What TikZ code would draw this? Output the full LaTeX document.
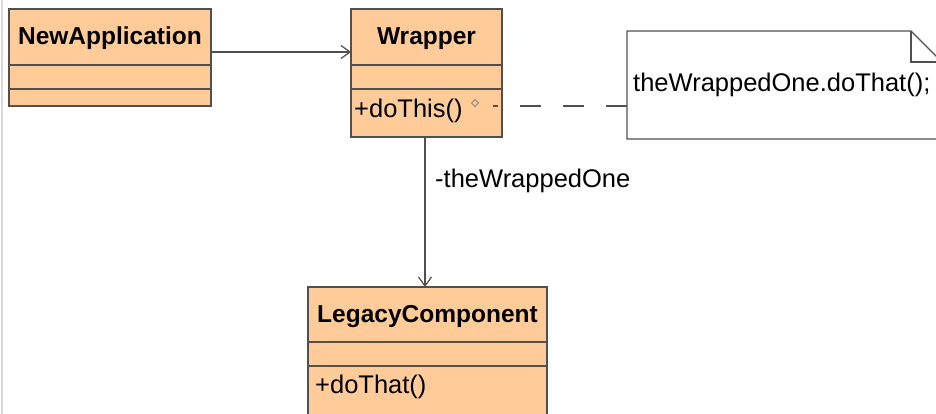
\documentclass[tikz,border=0pt]{standalone}
\usepackage{fontspec}
\setmainfont{Liberation Sans}
\usetikzlibrary{arrows.meta}
\definecolor{peach}{RGB}{255,204,153}
\definecolor{edge}{RGB}{80,80,80}
\tikzset{
  cls/.style={draw=edge, fill=peach, line width=1.3pt, rectangle, inner sep=0pt, outer sep=0pt},
  sep/.style={draw=edge, line width=1.3pt},
  bold/.style={font=\fontsize{24.5}{28}\selectfont\bfseries, inner sep=0pt, anchor=base},
  plain/.style={font=\fontsize{25.5}{28}\selectfont, inner sep=0pt, anchor=base west},
  assoc/.style={draw=edge, line width=1.2pt, -{Straight Barb[length=9pt,width=13pt,line width=1.2pt]}},
  notebox/.style={rectangle, inner sep=0pt, outer sep=0pt, minimum width=315pt, minimum height=108pt},
  dep/.style={draw=edge, line width=1.3pt, dash pattern=on 21.5pt off 21.5pt}
}
\begin{document}
\begin{tikzpicture}[x=1pt,y=-1pt]
\useasboundingbox (0,0) rectangle (936,414);
\fill[white] (0,0) rectangle (936,414);
\clip (0,0) rectangle (936,414);
\draw[black!15, line width=2pt] (2,0) -- (2,414);

% NewApplication
\node[cls, minimum width=202pt, minimum height=97pt] (newapp) at (110,57.5) {};
\draw[sep] (newapp.west |- 0,65) -- (newapp.east |- 0,65);
\draw[sep] (newapp.west |- 0,89) -- (newapp.east |- 0,89);
\node[bold] (newappT) at (110,45) {NewApplication};

% Wrapper
\node[cls, minimum width=151pt, minimum height=128pt] (wrapper) at (426.5,73) {};
\draw[sep] (wrapper.west |- 0,65) -- (wrapper.east |- 0,65);
\draw[sep] (wrapper.west |- 0,89) -- (wrapper.east |- 0,89);
\node[bold] (wrapperT) at (426.5,45) {Wrapper};
\node[plain] (doThis) at (354,118) {+doThis()};
\draw[edge!70, line width=0.9pt] (471.5,103) -- (475,99.5) -- (478.5,103) -- (475,106.5) -- cycle;

% LegacyComponent
\node[cls, minimum width=239pt, minimum height=140pt] (legacy) at (427.5,357) {};
\draw[sep] (legacy.west |- 0,342) -- (legacy.east |- 0,342);
\draw[sep] (legacy.west |- 0,366) -- (legacy.east |- 0,366);
\node[bold] (legacyT) at (427.5,322) {LegacyComponent};
\node[plain] (doThat) at (315,393) {+doThat()};

% Note
\node[notebox] (note) at (784.5,85) {};
\draw[draw=edge, fill=white, line width=1.3pt]
  (note.north west) -- ([xshift=-31pt]note.north east)
  -- ([yshift=-31pt]note.north east) -- (note.south east)
  -- (note.south west) -- cycle;
\draw[draw=edge, line width=1.3pt]
  ([xshift=-31pt]note.north east) |- ([yshift=-31pt]note.north east);
\node[plain] (noteT) at (633,92) {theWrappedOne.doThat();};

% connectors
\draw[assoc] ([yshift=5.5pt]newapp.east) -- ([yshift=5.5pt]newapp.east -| wrapper.west);
\draw[assoc] ([xshift=-1.5pt]wrapper.south) -- ([xshift=-1.5pt]wrapper.south |- legacy.north);
\node[plain] (roleT) at (435,187) {-theWrappedOne};
\coordinate (depEnd) at (493,106);
\draw[dep] (note.west |- depEnd) -- (depEnd);
\end{tikzpicture}
\end{document}
